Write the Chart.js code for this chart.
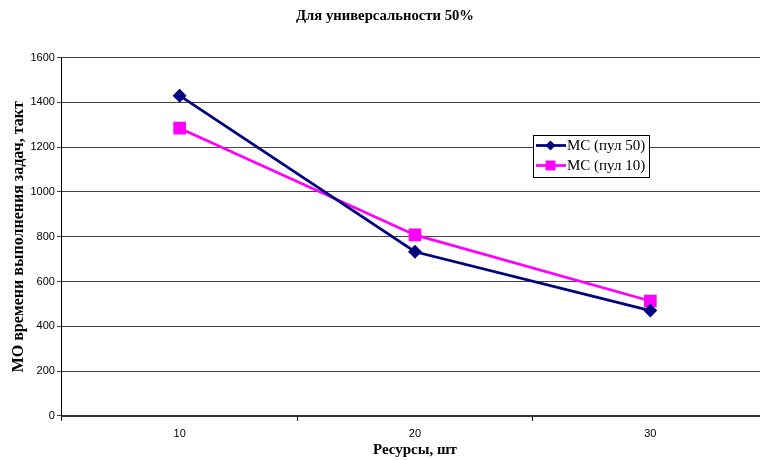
<!DOCTYPE html>
<html><head><meta charset="utf-8">
<script src="https://cdn.jsdelivr.net/npm/chart.js@4"></script>
<style>html,body{margin:0;padding:0;overflow:hidden;background:#fff}#wrap{width:770px;height:461px}</style>
</head><body><div id="wrap"><canvas id="c" width="770" height="461"></canvas></div>
<script>
const categories = ['10', '20', '30'];
const pool50 = [1430, 733, 470];
const pool10 = [1285, 808, 513];
const seriesNames = ['МС (пул 50)', 'МС (пул 10)'];
const yTicksStep = 200;
const yMax = 1600;
const titleText = 'Для универсальности 50%';
const xTitle = 'Ресурсы, шт';
const yTitle = 'МО времени выполнения задач, такт';

const legendBox = {
  id: 'legendBox',
  afterDraw(chart) {
    const ctx = chart.ctx;
    const x = 533, y = 135, w = 116, h = 42;
    ctx.save();
    ctx.fillStyle = '#fff';
    ctx.fillRect(x, y, w, h);
    ctx.strokeStyle = '#000';
    ctx.lineWidth = 1;
    ctx.strokeRect(x + 0.5, y + 0.5, w, h);
    chart.data.datasets.forEach((ds, i) => {
      const cy = y + 10.5 + i * 20;
      const mx = x + 17.5;
      ctx.strokeStyle = ds.borderColor;
      ctx.lineWidth = ds.borderWidth;
      ctx.beginPath(); ctx.moveTo(x + 3, cy); ctx.lineTo(x + 33, cy); ctx.stroke();
      ctx.fillStyle = ds.backgroundColor;
      if (ds.pointStyle === 'rectRot') {
        const r = ds.pointRadius;
        ctx.beginPath(); ctx.moveTo(mx, cy - r); ctx.lineTo(mx + r, cy); ctx.lineTo(mx, cy + r); ctx.lineTo(mx - r, cy); ctx.closePath(); ctx.fill();
      } else {
        const s = ds.pointRadius * Math.SQRT1_2;
        ctx.fillRect(mx - s, cy - s, 2 * s, 2 * s);
      }
      ctx.fillStyle = '#000';
      ctx.font = '15px "Liberation Serif", serif';
      ctx.textBaseline = 'middle';
      ctx.fillText(ds.label, x + 34, cy + 1);
    });
    ctx.restore();
  }
};

new Chart(document.getElementById('c'), {
  type: 'line',
  data: {
    labels: categories,
    datasets: [
      { label: seriesNames[0], data: pool50, borderColor: '#000080', backgroundColor: '#000080', borderWidth: 2.75, pointStyle: 'rectRot', pointRadius: 5, pointHoverRadius: 5, tension: 0 },
      { label: seriesNames[1], data: pool10, borderColor: '#FF00FF', backgroundColor: '#FF00FF', borderWidth: 2.75, pointStyle: 'rect', pointRadius: 7, pointHoverRadius: 7, tension: 0 }
    ]
  },
  options: {
    responsive: false,
    animation: false,
    layout: { autoPadding: false, padding: { left: 2, right: 2, top: 0, bottom: 2 } },
    plugins: {
      legend: { display: false },
      tooltip: { enabled: false },
      title: { display: true, text: titleText, color: '#000', font: { family: '"Liberation Serif", serif', size: 14.7, weight: 'bold' }, padding: { top: 7, bottom: 33 } }
    },
    scales: {
      x: {
        offset: true,
        grid: { offset: true, drawOnChartArea: false, drawTicks: true, tickLength: 5, color: '#000' },
        border: { color: '#333', width: 2 },
        ticks: { color: '#000', font: { family: '"Liberation Sans", Arial, sans-serif', size: 11 }, padding: 7 },
        title: { display: true, text: xTitle, color: '#000', font: { family: '"Liberation Serif", serif', size: 15, weight: 'bold' }, padding: { top: -7, bottom: 0 } }
      },
      y: {
        min: 0, max: yMax,
        ticks: { stepSize: yTicksStep, color: '#000', font: { family: '"Liberation Sans", Arial, sans-serif', size: 11 }, padding: 2, callback: v => String(v) },
        grid: { color: '#444', lineWidth: 1, tickLength: 5 },
        border: { color: '#000', width: 1 },
        title: { display: true, text: yTitle, color: '#000', font: { family: '"Liberation Serif", serif', size: 16, weight: 'bold' }, padding: { top: 7.3, bottom: 0 } }
      }
    }
  },
  plugins: [legendBox]
});
</script>
</body></html>
